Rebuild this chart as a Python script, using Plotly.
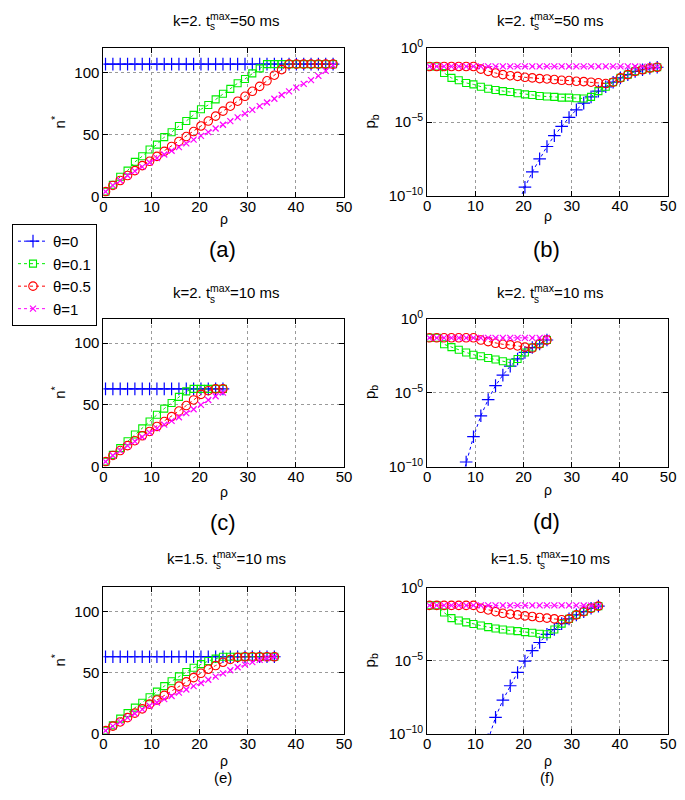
import plotly.graph_objects as go

# ---------------- data ----------------
RHO = [0.45, 1.98, 3.5, 5.03, 6.55, 8.08, 9.6, 11.13, 12.65, 14.18, 15.7, 17.23,
       18.75, 20.28, 21.8, 23.33, 24.85, 26.38, 27.9, 29.43, 30.95, 32.48, 34.0,
       35.53, 37.05, 38.58, 40.1, 41.63, 43.15, 44.68, 46.2, 47.73]

THETA_NAMES = ["θ=0", "θ=0.1", "θ=0.5", "θ=1"]

# panel (a): k=2, ts_max=50 ms, n*
n_a_t0 = [107, 107, 107, 107, 107, 107, 107, 107, 107, 107, 107, 107, 107, 107, 107, 107,
          107, 107, 107, 107, 107, 107, 107, 107, 107, 107, 107, 107, 107, 107, 107, 107]
n_a_t01 = [4, 9.5, 16, 21, 28, 32.6, 38, 42, 48, 52, 57, 61, 66, 70.5, 74, 78.5,
           83, 87, 91.5, 95, 99.5, 103.5, 107, 107, 107, 107, 107, 107, 107, 107, 107, 107]
n_a_t05 = [4, 9, 13, 17, 21, 25, 28.5, 32.5, 36.5, 40.5, 44.5, 48.5, 52.5, 57, 61, 65,
           69, 73, 77, 81, 85, 89, 93.5, 98, 102.5, 107, 107, 107, 107, 107, 107, 107]
n_a_t1 = [4, 9, 13, 17, 20.5, 24, 27.5, 31, 34, 37, 40, 43, 46, 49, 52, 55,
          58, 61, 64, 67, 70, 73, 76, 79, 82, 85, 88, 91, 94, 97.5, 101.5, 106]

# panel (b): k=2, ts_max=50 ms, log10(p_b)
lpb_b_t0 = [None, None, None, None, None, None, None, None, None, None, None, None,
            -10.6, -9.4, -8.37, -7.49, -6.65, -5.92, -5.29, -4.69, -4.18, -3.72, -3.30,
            -2.91, -2.62, -2.31, -2.02, -1.80, -1.58, -1.47, -1.36, -1.30]
lpb_b_t01 = [-1.25, -1.25, -1.69, -2.02, -2.18, -2.36, -2.46, -2.62, -2.75, -2.84, -2.91,
             -2.97, -3.06, -3.13, -3.17, -3.24, -3.28, -3.30, -3.35, -3.35, -3.39, -3.41,
             -3.30, -2.91, -2.62, -2.31, -2.02, -1.80, -1.58, -1.47, -1.36, -1.30]
lpb_b_t05 = [-1.25, -1.25, -1.25, -1.25, -1.25, -1.25, -1.25, -1.43, -1.58, -1.69, -1.80,
             -1.87, -1.92, -1.98, -2.02, -2.07, -2.09, -2.13, -2.18, -2.20, -2.25, -2.27,
             -2.31, -2.35, -2.40, -2.31, -2.02, -1.80, -1.58, -1.47, -1.36, -1.30]
lpb_b_t1 = [-1.24, -1.24, -1.24, -1.24, -1.24, -1.24, -1.24, -1.24, -1.24, -1.24, -1.24,
            -1.24, -1.24, -1.24, -1.24, -1.24, -1.24, -1.24, -1.24, -1.24, -1.24, -1.24,
            -1.24, -1.24, -1.24, -1.24, -1.24, -1.24, -1.25, -1.26, -1.27, -1.28]

# panel (c): k=2, ts_max=10 ms, n*
n_c_t0 = [63, 63, 63, 63, 63, 63, 63, 63, 63, 63, 63, 63, 63, 63, 63, 63, 63]
n_c_t01 = [4, 9.5, 15, 20.5, 26, 31, 36.5, 42, 47, 51.5, 56.5, 61, 63, 63, 63, 63, 63]
n_c_t05 = [4, 9, 13, 17, 21, 25, 28.5, 32.5, 36.5, 40.5, 45, 49.5, 54, 58.5, 61.5, 63, 63]
n_c_t1 = [4, 9, 13, 17, 20.5, 24, 27.5, 31, 34, 37, 40, 43.3, 46.5, 50, 54, 57, 60]

# panel (d): k=2, ts_max=10 ms, log10(p_b)
lpb_d_t0 = [None, None, None, None, -11.6, -9.69, -7.98, -6.57, -5.47, -4.53, -3.82,
            -3.21, -2.73, -2.29, -1.96, -1.71, -1.45]
lpb_d_t01 = [-1.30, -1.30, -1.74, -1.93, -2.11, -2.29, -2.44, -2.55, -2.66, -2.77, -2.88,
             -2.99, -2.73, -2.29, -1.96, -1.71, -1.45]
lpb_d_t05 = [-1.30, -1.30, -1.30, -1.30, -1.30, -1.30, -1.30, -1.45, -1.56, -1.67, -1.74,
             -1.78, -1.85, -1.93, -1.99, -1.71, -1.45]
lpb_d_t1 = [-1.30, -1.30, -1.30, -1.30, -1.30, -1.30, -1.30, -1.30, -1.30, -1.30, -1.30,
            -1.30, -1.30, -1.30, -1.30, -1.30, -1.30]

# panel (e): k=1.5, ts_max=10 ms, n*
n_e_t0 = [63, 63, 63, 63, 63, 63, 63, 63, 63, 63, 63, 63, 63, 63, 63, 63, 63, 63, 63, 63,
          63, 63, 63, 63]
n_e_t01 = [2.7, 7, 12.5, 17, 21.5, 25.5, 30, 34.5, 39, 43, 47, 50.5, 54, 57, 59.5, 61.5,
           63, 63, 63, 63, 63, 63, 63, 63]
n_e_t05 = [2.7, 6.4, 9.8, 13.3, 17, 20.5, 24.3, 27.7, 31.5, 35.3, 39, 42.5, 46, 49.5, 52.8,
           55.8, 58.5, 60.8, 62.5, 63, 63, 63, 63, 63]
n_e_t1 = [2.7, 6.4, 9.8, 13.3, 16.7, 20, 23, 25.7, 28.4, 31, 33.7, 36.3, 39, 41.6, 44.2,
          46.8, 49.4, 52, 54.4, 56.6, 58.6, 60.4, 62, 63]

# panel (f): k=1.5, ts_max=10 ms, log10(p_b)
lpb_f_t0 = [None, None, None, None, None, None, None, None, -10.4, -8.86, -7.68, -6.70,
            -5.79, -5.01, -4.30, -3.74, -3.18, -2.85, -2.45, -2.12, -1.85, -1.63, -1.40, -1.25]
lpb_f_t01 = [-1.2, -1.2, -1.69, -2.07, -2.23, -2.36, -2.47, -2.58, -2.69, -2.78, -2.85,
             -2.92, -2.96, -3.03, -3.07, -3.14, -3.18, -2.85, -2.45, -2.12, -1.85, -1.63,
             -1.40, -1.25]
lpb_f_t05 = [-1.2, -1.2, -1.2, -1.2, -1.2, -1.2, -1.2, -1.40, -1.51, -1.63, -1.74, -1.80,
             -1.85, -1.92, -1.96, -2.03, -2.07, -2.12, -2.18, -2.12, -1.85, -1.63, -1.40, -1.25]
lpb_f_t1 = [-1.2, -1.2, -1.2, -1.2, -1.2, -1.2, -1.2, -1.2, -1.2, -1.2, -1.2, -1.2,
            -1.2, -1.2, -1.2, -1.2, -1.2, -1.2, -1.2, -1.2, -1.2, -1.21, -1.22, -1.23]

X_TICKS = [0, 10, 20, 30, 40, 50]
N_TICKS = [0, 50, 100]
PB_TICKS = [1e-10, 1e-5, 1]
PB_TICKTEXT = ["10<sup>−10</sup>", "10<sup>−5</sup>", "10<sup>0</sup>"]

# ---------------- figure ----------------
# the page body has an 8 px margin, so the figure is sized to fit the window
OFF = 8
W, H = 677, 784
FONT = "Liberation Sans, Arial, Helvetica, sans-serif"

def px(x):
    return (x - OFF) / W

def py(y):
    return 1 - (y - OFF) / H

panels = {
    1: dict(x0=101, x1=346, yt=37.7, yb=190, kind="n"),
    2: dict(x0=430.7, x1=676, yt=37.7, yb=189.5, kind="p"),
    3: dict(x0=101, x1=346, yt=315, yb=466.7, kind="n"),
    4: dict(x0=430.7, x1=676, yt=315, yb=466.7, kind="p"),
    5: dict(x0=101, x1=346, yt=590, yb=740.7, kind="n"),
    6: dict(x0=430.7, x1=676, yt=591, yb=740.7, kind="p"),
}

series_data = {
    1: [n_a_t0, n_a_t01, n_a_t05, n_a_t1],
    2: [lpb_b_t0, lpb_b_t01, lpb_b_t05, lpb_b_t1],
    3: [n_c_t0, n_c_t01, n_c_t05, n_c_t1],
    4: [lpb_d_t0, lpb_d_t01, lpb_d_t05, lpb_d_t1],
    5: [n_e_t0, n_e_t01, n_e_t05, n_e_t1],
    6: [lpb_f_t0, lpb_f_t01, lpb_f_t05, lpb_f_t1],
}

styles = [
    dict(color="#0000ff", symbol="cross-thin-open", size=9, lw=1.2),
    dict(color="#00ee00", symbol="square-open", size=7, lw=1.1),
    dict(color="#ff0000", symbol="circle-open", size=8.5, lw=1.1),
    dict(color="#ff00ff", symbol="x-thin-open", size=6, lw=1.2),
]

fig = go.Figure()

for k, data in series_data.items():
    kind = panels[k]["kind"]
    for j, ys in enumerate(data):
        n = len(ys)
        xs = RHO[:n]
        if kind == "p":
            yv = [None if v is None else 10 ** v for v in ys]
        else:
            yv = ys
        st = styles[j]
        fig.add_trace(go.Scatter(
            x=xs, y=yv, mode="lines+markers",
            name=THETA_NAMES[j], showlegend=(k == 1),
            line=dict(color=st["color"], width=1, dash="dot"),
            marker=dict(symbol=st["symbol"], size=st["size"], color=st["color"],
                        line=dict(color=st["color"], width=st["lw"])),
            xaxis="x" if k == 1 else f"x{k}",
            yaxis="y" if k == 1 else f"y{k}",
        ))

axis_common = dict(showline=True, linecolor="black", linewidth=1, mirror="ticks",
                   ticks="inside", ticklen=5, tickcolor="black", tickwidth=1,
                   showgrid=True, gridcolor="#9a9a9a", griddash="dot", gridwidth=1,
                   zeroline=False, tickfont=dict(family=FONT, size=15, color="black"))

layout = dict(
    width=W, height=H, margin=dict(l=0, r=0, t=0, b=0),
    paper_bgcolor="white", plot_bgcolor="white",
    font=dict(family=FONT, size=15, color="black"),
    showlegend=True,
    legend=dict(x=0, y=py(218), xanchor="left", yanchor="top",
                bordercolor="black", borderwidth=1, bgcolor="white",
                font=dict(family=FONT, size=15, color="black"),
                tracegroupgap=0),
)

for k, p in panels.items():
    xa = dict(axis_common, domain=[px(p["x0"]), px(p["x1"])], range=[0, 50],
              tickvals=X_TICKS, ticklabelstandoff=-4,
              anchor="y" if k == 1 else f"y{k}")
    if p["kind"] == "n":
        ya = dict(axis_common, domain=[py(p["yb"]), py(p["yt"])], range=[0, 120],
                  tickvals=N_TICKS)
    else:
        ya = dict(axis_common, domain=[py(p["yb"]), py(p["yt"])], type="log",
                  range=[-10, 0], tickvals=PB_TICKS, ticktext=PB_TICKTEXT)
    ya["anchor"] = "x" if k == 1 else f"x{k}"
    layout["xaxis" if k == 1 else f"xaxis{k}"] = xa
    layout["yaxis" if k == 1 else f"yaxis{k}"] = ya

annotations = []

def ann(text, x, y, size, angle=0, xanchor="center", yanchor="middle"):
    annotations.append(dict(text=text, x=px(x), y=py(y), xref="paper", yref="paper",
                            showarrow=False, textangle=angle, xanchor=xanchor,
                            yanchor=yanchor,
                            font=dict(family=FONT, size=size, color="black")))

CW = {"k": .5, "=": .584, "2": .556, ".": .278, " ": .278, "t": .278, "m": .833,
      "a": .556, "x": .5, "5": .556, "0": .556, "s": .5, "1": .556}

def wid(s):
    return sum(CW.get(c, .556) for c in s)

def title(prefix, rest, cx, cy, fs=15):
    total = fs * (wid(prefix) + 0.7 * wid("max") + wid(rest))
    left = cx - total / 2
    ann(prefix + "<sup>max</sup>" + rest, left, cy, fs, xanchor="left")
    ann("s", left + fs * wid(prefix) + 0.5, cy + 8, round(fs * 0.7), xanchor="left")

titles = {
    1: ("k=2. t", "=50 ms", 8),
    2: ("k=2. t", "=50 ms", 8),
    3: ("k=2. t", "=10 ms", 287),
    4: ("k=2. t", "=10 ms", 287),
    5: ("k=1.5. t", "=10 ms", 560),
    6: ("k=1.5. t", "=10 ms", 560),
}
for k, (pre, rest, cy) in titles.items():
    p = panels[k]
    title(pre, rest, (p["x0"] + p["x1"]) / 2, cy)

rho_y = {1: 213, 2: 210, 3: 493, 4: 491, 5: 768, 6: 768}
for k, yy in rho_y.items():
    p = panels[k]
    ann("ρ", (p["x0"] + p["x1"]) / 2, yy, 14)

labels = {1: ("(a)", 244, 22), 2: ("(b)", 244, 22), 3: ("(c)", 524, 22),
          4: ("(d)", 523, 22), 5: ("(e)", 785, 15), 6: ("(f)", 785, 15)}
for k, (t, yy, fs) in labels.items():
    p = panels[k]
    ann(t, (p["x0"] + p["x1"]) / 2 - 1, yy, fs)

for k in (1, 3, 5):
    p = panels[k]
    ann("n<sup>*</sup>", 55, (p["yt"] + p["yb"]) / 2, 15, angle=-90)
for k in (2, 4, 6):
    p = panels[k]
    ann("p<sub>b</sub>", 373, (p["yt"] + p["yb"]) / 2, 15, angle=-90)

layout["annotations"] = annotations
fig.update_layout(**layout)

fig.write_html("out.html")
